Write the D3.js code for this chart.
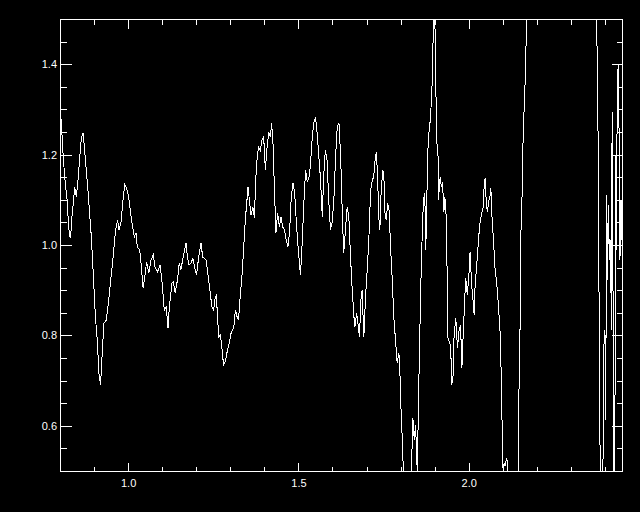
<!DOCTYPE html>
<html>
<head>
<meta charset="utf-8">
<script src="https://cdnjs.cloudflare.com/ajax/libs/d3/7.8.5/d3.min.js"></script>
<style>
  body { margin: 0; background: #000; }
  svg { display: block; }
</style>
</head>
<body>
<div id="chart"></div>
<script>
"use strict";

// wavelength (x) and normalised flux (y)
const xValues = [
  0.8015, 0.803, 0.806, 0.810, 0.816, 0.821, 0.825, 0.828, 0.831, 0.835,
  0.840, 0.843, 0.848, 0.853, 0.858, 0.863, 0.868, 0.874, 0.882, 0.892,
  0.897, 0.904, 0.910, 0.914, 0.919, 0.924, 0.929, 0.936, 0.943, 0.949,
  0.956, 0.963, 0.969, 0.973, 0.979, 0.985, 0.990, 0.997, 1.002, 1.010,
  1.018, 1.023, 1.027, 1.034, 1.039, 1.044, 1.049, 1.054, 1.061, 1.067,
  1.074, 1.079, 1.086, 1.094, 1.101, 1.106, 1.112, 1.117, 1.121, 1.129,
  1.133, 1.138, 1.145, 1.150, 1.155, 1.160, 1.166, 1.170, 1.174, 1.179,
  1.185, 1.190, 1.195, 1.201, 1.207, 1.214, 1.219, 1.224, 1.229, 1.234,
  1.241, 1.246, 1.251, 1.256, 1.259, 1.263, 1.266, 1.271, 1.276, 1.280,
  1.285, 1.290, 1.297, 1.303, 1.310, 1.315, 1.320, 1.324, 1.329, 1.334,
  1.339, 1.344, 1.349, 1.352, 1.356, 1.361, 1.366, 1.371, 1.374, 1.379,
  1.383, 1.388, 1.393, 1.398, 1.403, 1.408, 1.413, 1.418, 1.421, 1.425,
  1.429, 1.434, 1.439, 1.444, 1.449, 1.454, 1.459, 1.464, 1.469, 1.474,
  1.479, 1.484, 1.489, 1.494, 1.499, 1.506, 1.511, 1.516, 1.521, 1.526,
  1.531, 1.535, 1.540, 1.545, 1.550, 1.555, 1.560, 1.565, 1.570, 1.574,
  1.579, 1.584, 1.589, 1.594, 1.599, 1.604, 1.609, 1.614, 1.619, 1.624,
  1.629, 1.633, 1.638, 1.643, 1.648, 1.653, 1.658, 1.663, 1.666, 1.671,
  1.676, 1.679, 1.684, 1.687, 1.692, 1.697, 1.702, 1.707, 1.712, 1.717,
  1.721, 1.726, 1.729, 1.733, 1.736, 1.739, 1.743, 1.748, 1.751, 1.754,
  1.758, 1.762, 1.766, 1.771, 1.776, 1.780, 1.785, 1.790, 1.795, 1.798,
  1.801, 1.805, 1.808, 1.815, 1.829, 1.836, 1.840, 1.844, 1.849, 1.853,
  1.859, 1.862, 1.867, 1.871, 1.874, 1.877, 1.881, 1.888, 1.893, 1.897,
  1.900, 1.903, 1.906, 1.910, 1.911, 1.916, 1.920, 1.923, 1.927, 1.930,
  1.934, 1.937, 1.939, 1.944, 1.947, 1.950, 1.954, 1.957, 1.962, 1.967,
  1.971, 1.976, 1.980, 1.984, 1.988, 1.991, 1.996, 2.001, 2.004, 2.008,
  2.013, 2.016, 2.019, 2.023, 2.027, 2.032, 2.037, 2.042, 2.045, 2.048,
  2.052, 2.055, 2.058, 2.063, 2.065, 2.068, 2.073, 2.077, 2.082, 2.087,
  2.092, 2.096, 2.099, 2.101, 2.104, 2.107, 2.111, 2.114, 2.116, 2.129,
  2.145, 2.146, 2.150, 2.153, 2.156, 2.160, 2.165, 2.170, 2.174, 2.212,
  2.271, 2.344, 2.373, 2.378, 2.381, 2.383, 2.386, 2.390, 2.394, 2.397,
  2.400, 2.402, 2.405, 2.408, 2.410, 2.413, 2.416, 2.419, 2.421, 2.423,
  2.424, 2.426, 2.429, 2.430, 2.432, 2.434, 2.436, 2.439, 2.442, 2.444,
  2.447, 2.450
];
const yValues = [
  1.347, 1.277, 1.243, 1.188, 1.133, 1.100, 1.044, 1.020, 1.015, 1.062,
  1.100, 1.128, 1.106, 1.144, 1.195, 1.239, 1.248, 1.195, 1.122, 1.018,
  0.945, 0.841, 0.783, 0.717, 0.690, 0.761, 0.827, 0.834, 0.878, 0.923,
  0.973, 1.033, 1.055, 1.033, 1.049, 1.100, 1.134, 1.122, 1.104, 1.055,
  1.018, 1.027, 0.996, 0.989, 0.951, 0.905, 0.929, 0.962, 0.938, 0.967,
  0.978, 0.951, 0.940, 0.956, 0.907, 0.856, 0.863, 0.816, 0.863, 0.916,
  0.918, 0.894, 0.923, 0.960, 0.945, 0.967, 0.989, 1.005, 0.973, 0.956,
  0.960, 0.971, 0.951, 0.934, 0.973, 1.004, 0.973, 0.971, 0.967, 0.938,
  0.894, 0.863, 0.856, 0.885, 0.889, 0.834, 0.796, 0.801, 0.768, 0.735,
  0.741, 0.761, 0.783, 0.808, 0.816, 0.856, 0.841, 0.834, 0.885, 0.929,
  0.989, 1.055, 1.100, 1.128, 1.100, 1.066, 1.084, 1.060, 1.137, 1.195,
  1.217, 1.210, 1.232, 1.239, 1.166, 1.217, 1.250, 1.239, 1.270, 1.232,
  1.137, 1.027, 1.071, 1.040, 1.062, 1.040, 1.033, 1.011, 0.996, 1.027,
  1.106, 1.137, 1.115, 1.049, 0.996, 0.934, 1.004, 1.093, 1.166, 1.139,
  1.150, 1.173, 1.232, 1.270, 1.283, 1.248, 1.195, 1.144, 1.062, 1.150,
  1.210, 1.188, 1.100, 1.033, 1.051, 1.100, 1.195, 1.261, 1.270, 1.195,
  1.062, 0.982, 1.033, 1.084, 1.062, 0.973, 0.900, 0.841, 0.819, 0.850,
  0.819, 0.796, 0.885, 0.900, 0.796, 0.885, 0.945, 1.018, 1.122, 1.144,
  1.150, 1.195, 1.206, 1.137, 1.062, 1.033, 1.122, 1.166, 1.150, 1.071,
  1.055, 1.093, 1.077, 0.989, 0.916, 0.841, 0.790, 0.739, 0.761, 0.717,
  0.642, 0.569, 0.502, 0.410, 0.430, 0.617, 0.569, 0.602, 0.497, 0.675,
  0.900, 0.989, 1.100, 1.115, 0.989, 1.106, 1.232, 1.283, 1.365, 1.520,
  1.530, 1.372, 1.232, 1.195, 1.100, 1.150, 1.128, 1.139, 1.073, 1.106,
  1.060, 0.918, 0.794, 0.783, 0.779, 0.690, 0.712, 0.801, 0.839, 0.772,
  0.808, 0.823, 0.728, 0.808, 0.874, 0.927, 0.889, 0.940, 0.985, 0.918,
  0.874, 0.845, 0.918, 0.949, 0.993, 1.044, 1.066, 1.082, 1.126, 1.148,
  1.088, 1.073, 1.095, 1.111, 1.126, 1.066, 1.007, 0.949, 0.918, 0.867,
  0.808, 0.697, 0.551, 0.498, 0.518, 0.511, 0.529, 0.520, 0.480, 0.390,
  0.498, 0.624, 0.763, 1.022, 1.088, 1.250, 1.347, 1.493, 1.550, 1.900,
  2.100, 1.900, 1.540, 1.405, 1.117, 0.823, 0.498, 0.390, 0.502, 0.779,
  0.812, 0.613, 1.111, 0.923, 1.088, 0.967, 1.011, 0.812, 1.294, 1.281,
  0.657, 0.458, 0.458, 0.878, 1.199, 0.989, 1.361, 1.398, 1.210, 0.967,
  1.100, 1.011
];

const xTickValues = [1.0, 1.5, 2.0];
const xTickLabels = ["1.0", "1.5", "2.0"];
const yTickValues = [0.6, 0.8, 1.0, 1.2, 1.4];
const yTickLabels = ["0.6", "0.8", "1.0", "1.2", "1.4"];
const xMinorValues = [0.9, 1.1, 1.2, 1.3, 1.4, 1.6, 1.7, 1.8, 1.9, 2.1, 2.2, 2.3, 2.4];
const yMinorValues = [0.55, 0.65, 0.7, 0.75, 0.85, 0.9, 0.95, 1.05, 1.1, 1.15, 1.25, 1.3, 1.35, 1.45];

function drawSpectrum() {
  var width = 640, height = 512;
  var left = 60, right = 622, top = 19, bottom = 471;

  var svg = d3.select('#chart').append('svg')
    .attr('width', width).attr('height', height)
    .style('background', '#000');

  var x = d3.scaleLinear().domain([0.8, 2.45]).range([left, right]);
  var y = d3.scaleLinear().domain([0.5, 1.5]).range([bottom, top]);

  svg.append('clipPath').attr('id', 'plotClip')
    .append('rect')
    .attr('x', left).attr('y', top)
    .attr('width', right - left + 1).attr('height', bottom - top);

  // tick labels through d3 axes, tick marks drawn by hand (inward, on all 4 sides)
  function styleLabels(g) {
    g.select('.domain').remove();
    g.selectAll('line').remove();
    g.selectAll('text')
      .attr('fill', '#fff')
      .style('font-family', '"Liberation Sans", Arial, sans-serif')
      .style('font-size', '11px');
  }

  svg.append('g').attr('transform', 'translate(0,' + bottom + ')')
    .call(d3.axisBottom(x).tickValues(xTickValues).tickSize(0).tickPadding(8)
      .tickFormat(function(d, i) { return xTickLabels[i]; }))
    .call(styleLabels);
  svg.append('g').attr('transform', 'translate(' + left + ',0)')
    .call(d3.axisLeft(y).tickValues(yTickValues).tickSize(0).tickPadding(3)
      .tickFormat(function(d, i) { return yTickLabels[i]; }))
    .call(styleLabels);

  var ticks = svg.append('g')
    .attr('stroke', '#fff')
    .attr('stroke-width', 1)
    .attr('shape-rendering', 'crispEdges');

  function xTicks(values, len) {
    [bottom, top].forEach(function(edge) {
      var dir = edge === bottom ? -1 : 1;
      ticks.selectAll(null).data(values).enter().append('line')
        .attr('x1', function(d) { return Math.round(x(d)) + 0.5; })
        .attr('x2', function(d) { return Math.round(x(d)) + 0.5; })
        .attr('y1', edge + 0.5)
        .attr('y2', edge + 0.5 + dir * len);
    });
  }
  function yTicks(values, len) {
    [left, right].forEach(function(edge) {
      var dir = edge === left ? 1 : -1;
      ticks.selectAll(null).data(values).enter().append('line')
        .attr('y1', function(d) { return Math.round(y(d)) + 0.5; })
        .attr('y2', function(d) { return Math.round(y(d)) + 0.5; })
        .attr('x1', edge + 0.5)
        .attr('x2', edge + 0.5 + dir * len);
    });
  }
  xTicks(xTickValues, 9);
  xTicks(xMinorValues, 5);
  yTicks(yTickValues, 11);
  yTicks(yMinorValues, 6);

  svg.append('rect')
    .attr('x', left + 0.5).attr('y', top + 0.5)
    .attr('width', right - left).attr('height', bottom - top)
    .attr('fill', 'none').attr('stroke', '#fff').attr('stroke-width', 1)
    .attr('shape-rendering', 'crispEdges');

  var points = xValues.map(function(d, i) { return [d, yValues[i]]; });
  var line = d3.line()
    .x(function(d) { return x(d[0]); })
    .y(function(d) { return y(d[1]); });

  svg.append('path')
    .datum(points)
    .attr('clip-path', 'url(#plotClip)')
    .attr('d', line)
    .attr('fill', 'none')
    .attr('stroke', '#fff')
    .attr('stroke-width', 1)
    .attr('shape-rendering', 'crispEdges');
}

drawSpectrum();
</script>
</body>
</html>
